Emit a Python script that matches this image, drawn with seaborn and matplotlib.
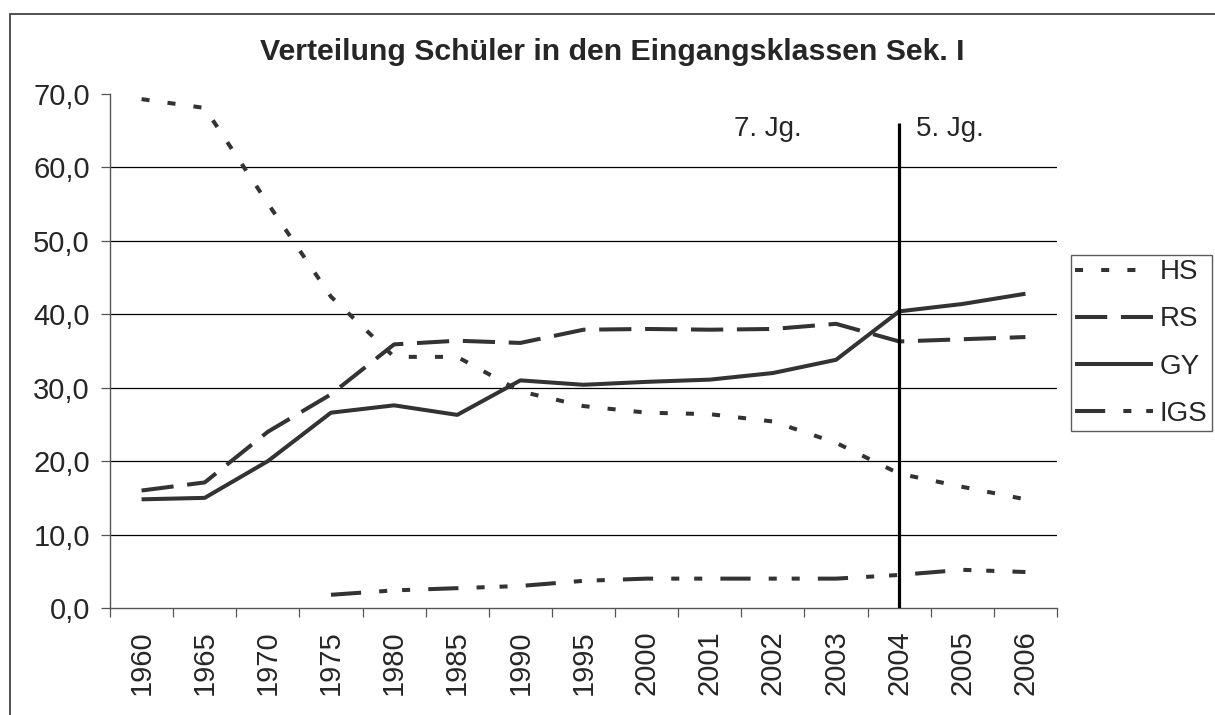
import numpy as np
import pandas as pd
import matplotlib
matplotlib.use('Agg')
import matplotlib.pyplot as plt
from matplotlib.patches import Rectangle
from matplotlib.ticker import FuncFormatter, FixedLocator
import seaborn as sns

# Data
YEARS = ['1960', '1965', '1970', '1975', '1980', '1985', '1990', '1995',
         '2000', '2001', '2002', '2003', '2004', '2005', '2006']
HS  = [69.3, 68.1, 55.1, 42.4, 34.2, 34.2, 29.5, 27.5,
       26.6, 26.4, 25.4, 22.5, 18.3, 16.5, 14.8]
RS  = [16.0, 17.1, 24.0, 29.1, 35.9, 36.4, 36.1, 37.9,
       38.0, 37.9, 38.0, 38.7, 36.3, 36.6, 36.9]
GY  = [14.8, 15.0, 20.0, 26.6, 27.6, 26.3, 31.0, 30.4,
       30.8, 31.1, 32.0, 33.8, 40.4, 41.4, 42.8]
IGS = [np.nan, np.nan, np.nan, 1.8, 2.4, 2.7, 3.0, 3.7,
       4.0, 4.0, 4.0, 4.0, 4.5, 5.2, 4.9]
SERIES = ['HS', 'RS', 'GY', 'IGS']

SPLIT_YEAR = '2004'
SPLIT_TOP  = 66.0
TITLE = 'Verteilung Schüler in den Eingangsklassen Sek. I'

W, H = 1215, 715
LINE_COLOR = '#333333'


def main():
    sns.set_theme(style='white')
    plt.rcParams['font.family'] = ['Liberation Sans', 'DejaVu Sans']

    rows = []
    for name, vals in zip(SERIES, [HS, RS, GY, IGS]):
        for i, v in enumerate(vals):
            rows.append({'pos': i, 'value': v, 'series': name})
    df = pd.DataFrame(rows).dropna()

    fig = plt.figure(figsize=(W / 100, H / 100), dpi=100)
    ax = fig.add_axes([110 / W, 1 - 608 / H, (1057 - 110) / W, (608 - 94) / H])

    # horizontal grid (no line at the top, 70)
    for lvl in [10, 20, 30, 40, 50, 60]:
        ax.axhline(lvl, color='black', lw=0.9, zorder=0)

    dashes = {
        'HS':  (2.0, 4.5),
        'RS':  (8.0, 3.4),
        'GY':  '',
        'IGS': (7.5, 4.5, 2.0, 3.7, 2.0, 4.5),
    }
    n_before = len(ax.lines)
    sns.lineplot(data=df, x='pos', y='value', style='series',
                 style_order=SERIES, dashes=dashes, color=LINE_COLOR,
                 lw=2.9, legend=False, ax=ax, zorder=3)
    series_lines = ax.lines[n_before:]
    for ln in series_lines:
        ln.set_dash_capstyle('butt')
        ln.set_solid_capstyle('butt')

    split_x = YEARS.index(SPLIT_YEAR)
    ax.vlines(split_x, 0, SPLIT_TOP, color='black', lw=2.3, zorder=4)
    ax.text(9.92, 65.2, '7. Jg.', fontsize=20, ha='center', va='center')
    ax.text(12.8, 65.2, '5. Jg.', fontsize=20, ha='center', va='center')

    ax.set_xlim(-0.5, len(YEARS) - 0.5)
    ax.set_ylim(0, 70)
    ax.set_xticks(range(len(YEARS)))
    ax.set_xticklabels(YEARS, rotation=90, fontsize=21)
    ax.xaxis.set_minor_locator(FixedLocator(np.arange(-0.5, len(YEARS), 1.0)))
    ax.tick_params(axis='x', which='major', length=0, pad=16)
    ax.tick_params(axis='x', which='minor', length=6.5, width=0.9,
                   color='#555555', direction='out', bottom=True)
    ax.set_yticks(np.arange(0, 71, 10))
    ax.yaxis.set_major_formatter(FuncFormatter(lambda v, p: f'{v:.1f}'.replace('.', ',')))
    ax.tick_params(axis='y', length=6.5, width=0.9, color='#555555',
                   direction='out', left=True, pad=8, labelsize=21)
    ax.set_xlabel('')
    ax.set_ylabel('')

    for side in ['top', 'right']:
        ax.spines[side].set_visible(False)
    for side in ['left', 'bottom']:
        ax.spines[side].set_color('#555555')
        ax.spines[side].set_linewidth(1.0)

    leg = fig.legend(series_lines, SERIES, loc='center left',
                     bbox_to_anchor=(1071 / W, 1 - 343 / H),
                     fontsize=20, frameon=True, fancybox=False,
                     handlelength=2.8, handletextpad=0.25,
                     borderpad=0.15, labelspacing=0.76, borderaxespad=0)
    leg.get_frame().set_edgecolor('#333333')
    leg.get_frame().set_linewidth(1.0)

    fig.text(612 / W, 1 - 52 / H, TITLE, fontsize=21.8, fontweight='bold',
             ha='center', va='center')

    # outer chart border
    fig.patches.append(Rectangle((10 / W, -0.1), 1.2, 1 - 14 / H + 0.1,
                                 transform=fig.transFigure, fill=False,
                                 edgecolor='#333333', lw=1.2))

    fig.savefig('out.png', dpi=100)


if __name__ == '__main__':
    main()
